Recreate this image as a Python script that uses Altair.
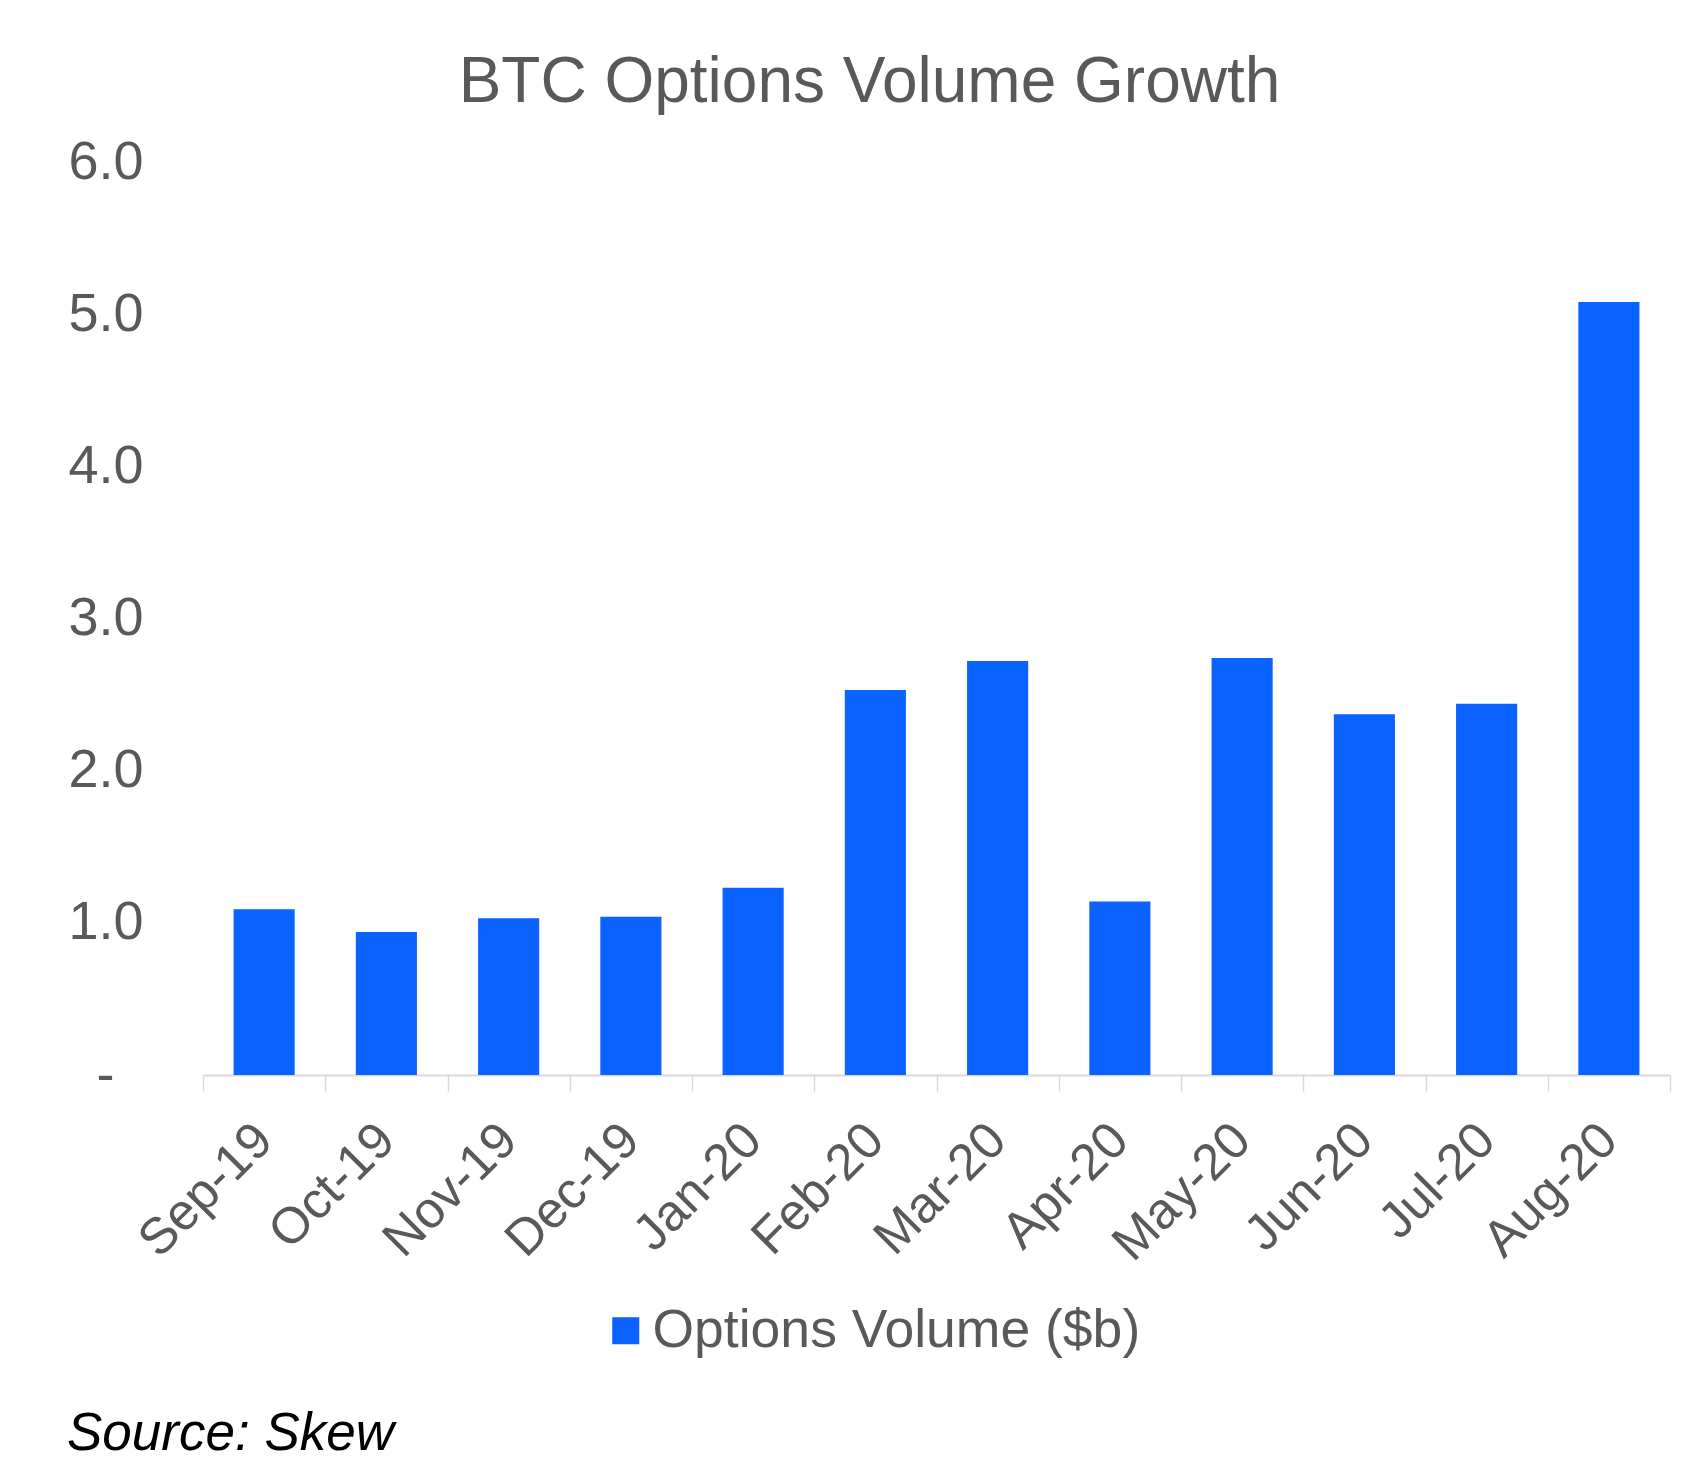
import altair as alt
import pandas as pd

months = ["Sep-19", "Oct-19", "Nov-19", "Dec-19", "Jan-20", "Feb-20",
          "Mar-20", "Apr-20", "May-20", "Jun-20", "Jul-20", "Aug-20"]
volumes = [1.09, 0.94, 1.03, 1.04, 1.23, 2.53, 2.72, 1.14, 2.74, 2.37, 2.44, 5.08]
series_name = ["Options Volume ($b)"]
source_note = ["Source: Skew"]
y_ticks = [0, 1, 2, 3, 4, 5, 6]

FONT = "Liberation Sans"
GREY = "#595959"
BLUE = "#0B63FF"

df = pd.DataFrame({"month": months, "volume": volumes, "series": series_name * len(months)})
src = pd.DataFrame({"note": source_note})

bars = alt.Chart(df).mark_bar(color=BLUE, width=alt.RelativeBandSize(0.5)).encode(
    x=alt.X("month:N", sort=months,
            scale=alt.Scale(paddingInner=0, paddingOuter=0),
            axis=alt.Axis(title=None, labelAngle=-45, labelAlign="right",
                          labelBaseline="middle", labelFontSize=51,
                          labelColor=GREY, labelFont=FONT, labelPadding=41,
                          tickBand="extent", tickSize=16, tickColor="#D9D9D9",
                          tickWidth=1.5, domainColor="#D9D9D9", domainWidth=2,
                          grid=False)),
    y=alt.Y("volume:Q", scale=alt.Scale(domain=[0, 6], nice=False),
            axis=alt.Axis(title=None, values=y_ticks, domain=False, ticks=False,
                          grid=False, labelFontSize=54, labelColor=GREY,
                          labelFont=FONT,
                          labelPadding={"condition": {"test": "datum.value == 0", "value": 89},
                                        "value": 60},
                          labelExpr="datum.value == 0 ? '-' : format(datum.value, '.1f')")),
    color=alt.Color("series:N", scale=alt.Scale(range=[BLUE]),
                    legend=alt.Legend(title=None, orient="none", legendX=396, legendY=1142,
                                      symbolType="square", symbolSize=729,
                                      symbolStrokeWidth=0, labelFontSize=53.5,
                                      labelColor=GREY, labelFont=FONT,
                                      labelOffset=0, labelLimit=1000, padding=0)),
)

note = alt.Chart(src).mark_text(
    align="left", baseline="alphabetic", fontSize=53, fontStyle="italic",
    font=FONT, color="#000000"
).encode(x=alt.value(-136), y=alt.value(1288), text="note:N")

chart = alt.layer(bars, note).properties(
    width=1467, height=913,
    autosize=alt.AutoSizeParams(type="none"),
    padding={"left": 195, "top": 154, "right": 8, "bottom": 377},
    title=alt.TitleParams("BTC Options Volume Growth", fontSize=64, color=GREY,
                          font=FONT, fontWeight="normal", anchor="middle",
                          dx=-67, offset=20),
).configure_view(stroke=None)

chart.save("out.html", embed_options={"renderer": "svg", "actions": False})
